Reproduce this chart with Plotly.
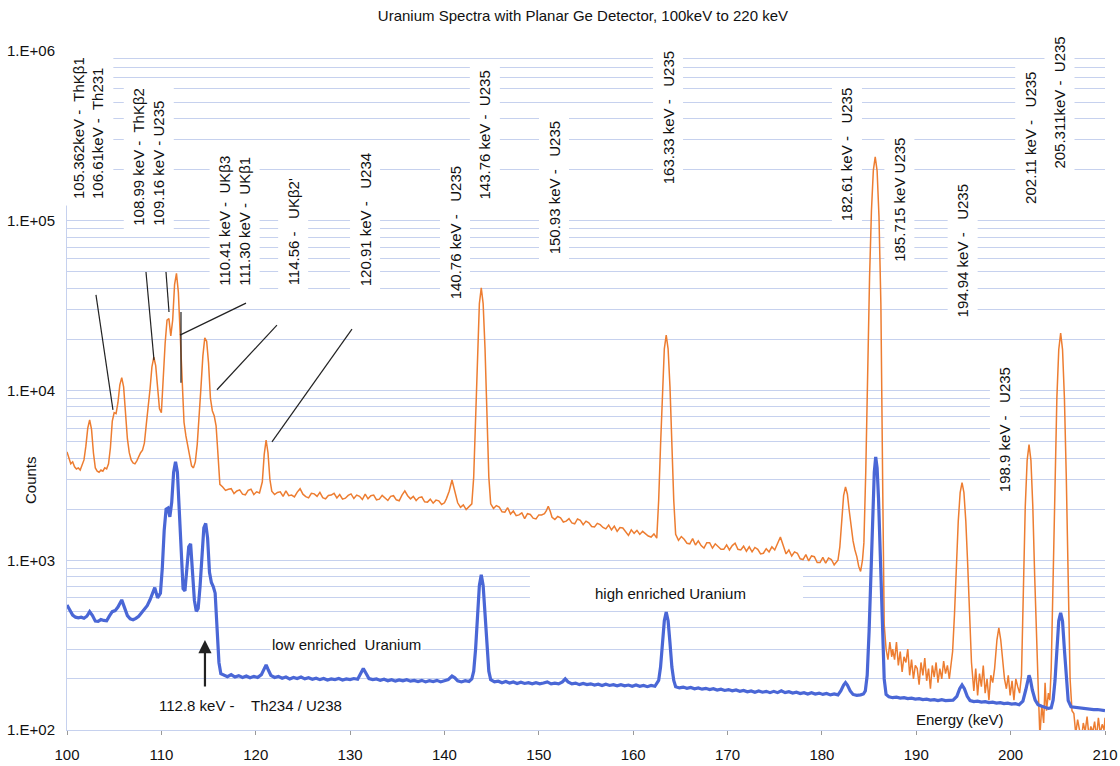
import math
import plotly.graph_objects as go

# ---------------- data ----------------
# high enriched uranium (orange)
heu_energy = [
    100.0,100.2,100.4,100.6,100.8,101.0,101.2,101.4,101.6,101.8,
    102.0,102.2,102.4,102.6,102.8,103.0,103.2,103.4,103.6,103.8,
    104.0,104.2,104.4,104.6,104.8,105.0,105.2,105.4,105.6,105.8,
    106.0,106.2,106.4,106.6,106.8,107.0,107.2,107.4,107.6,107.8,
    108.0,108.2,108.4,108.6,108.8,109.0,109.2,109.4,109.6,109.8,
    110.0,110.2,110.4,110.6,110.8,111.0,111.2,111.4,111.6,111.8,
    112.0,112.2,112.4,112.6,112.8,113.0,113.2,113.4,113.6,113.8,
    114.0,114.2,114.4,114.6,114.8,115.0,115.2,115.4,115.6,115.8,
    116.0,116.2,116.5,116.8,117.1,117.4,117.7,118.0,118.3,118.6,
    118.9,119.2,119.5,119.8,120.1,120.4,120.7,120.9,121.1,121.3,
    121.5,121.7,122.0,122.3,122.6,122.9,123.2,123.5,123.8,124.1,
    124.4,124.7,125.0,125.3,125.6,125.9,126.2,126.5,126.8,127.1,
    127.4,127.7,128.0,128.3,128.6,128.9,129.2,129.5,129.8,130.1,
    130.4,130.7,131.0,131.3,131.6,131.9,132.2,132.5,132.8,133.1,
    133.4,133.7,134.0,134.3,134.6,134.9,135.2,135.5,135.8,136.1,
    136.4,136.7,137.0,137.3,137.6,137.9,138.2,138.5,138.8,139.1,
    139.4,139.7,140.0,140.2,140.5,140.8,141.1,141.4,141.7,142.0,
    142.3,142.6,142.9,143.1,143.3,143.5,143.7,143.9,144.1,144.3,
    144.5,144.7,144.9,145.2,145.5,145.8,146.1,146.4,146.7,147.0,
    147.3,147.6,147.9,148.2,148.5,148.8,149.1,149.4,149.7,150.0,
    150.3,150.6,150.8,151.0,151.2,151.4,151.7,152.0,152.3,152.6,
    152.9,153.2,153.5,153.8,154.1,154.4,154.7,155.0,155.3,155.6,
    155.9,156.2,156.5,156.8,157.1,157.4,157.7,158.0,158.3,158.6,
    158.9,159.2,159.5,159.8,160.1,160.4,160.7,161.0,161.3,161.6,
    161.9,162.2,162.5,162.7,162.9,163.1,163.3,163.5,163.7,163.9,
    164.1,164.3,164.5,164.8,165.1,165.4,165.7,166.0,166.3,166.6,
    166.9,167.2,167.5,167.8,168.1,168.4,168.7,169.0,169.3,169.6,
    169.9,170.2,170.5,170.8,171.1,171.4,171.7,172.0,172.3,172.6,
    172.9,173.2,173.5,173.8,174.1,174.4,174.7,175.0,175.3,175.6,
    175.9,176.2,176.5,176.8,177.1,177.4,177.7,178.0,178.3,178.6,
    178.9,179.2,179.5,179.8,180.1,180.4,180.7,181.0,181.3,181.5,
    181.7,181.9,182.1,182.3,182.5,182.7,182.9,183.1,183.3,183.5,
    183.7,183.9,184.1,184.3,184.45,184.65,184.85,185.05,185.25,185.45,
    185.65,185.85,186.05,186.25,186.45,186.6,186.8,187.0,187.2,187.4,
    187.5,187.7,187.9,188.1,188.3,188.5,188.7,188.9,189.1,189.3,
    189.5,189.7,189.9,190.1,190.3,190.5,190.7,190.9,191.1,191.3,
    191.5,191.7,191.9,192.1,192.3,192.5,192.7,192.9,193.1,193.3,
    193.5,193.7,193.85,194.05,194.25,194.45,194.65,194.85,195.05,195.25,
    195.45,195.65,195.85,196.1,196.3,196.5,196.7,196.9,197.1,197.3,
    197.5,197.7,197.9,198.1,198.3,198.55,198.75,198.95,199.15,199.35,
    199.55,199.75,199.95,200.15,200.35,200.55,200.75,200.95,201.15,201.35,
    201.55,201.75,201.95,202.15,202.35,202.55,202.75,202.95,203.1,203.3,
    203.5,203.65,203.8,204.0,204.15,204.3,204.5,204.7,204.9,205.1,
    205.3,205.5,205.7,205.9,206.1,206.3,206.5,206.7,206.9,207.1,
    207.3,207.5,207.7,207.9,208.1,208.3,208.5,208.7,208.9,209.1,
    209.3,209.5,209.7,209.9,210.0,
]
heu_counts = [
    4350,4000,3700,3800,3550,3450,3500,3400,3600,3900,
    4700,6000,6700,5900,4300,3500,3350,3300,3400,3350,
    3500,3450,3700,4600,6600,7400,7300,8500,10800,11900,
    10500,7500,5200,4300,3900,3750,3700,3850,4100,4300,
    4450,4900,6300,7800,10200,13800,15700,14000,10200,7800,
    7400,12000,19000,26000,26500,21000,26000,42000,49000,38000,
    21000,9500,6500,5400,4700,4000,3600,3500,3800,4800,
    6800,10500,16000,20400,19500,14500,9000,7600,7100,6200,
    4200,2800,2700,2580,2620,2640,2470,2560,2600,2450,
    2430,2580,2620,2440,2530,2490,2900,4200,5100,4300,
    3000,2550,2440,2510,2530,2380,2560,2400,2420,2360,
    2520,2640,2450,2370,2330,2480,2460,2380,2510,2340,
    2300,2410,2420,2480,2330,2440,2290,2320,2410,2460,
    2310,2420,2380,2280,2450,2300,2400,2420,2270,2290,
    2410,2330,2250,2380,2400,2270,2240,2420,2560,2400,
    2300,2380,2250,2340,2360,2210,2200,2290,2170,2260,
    2240,2130,2180,2300,2550,2970,2500,2180,2050,2120,
    1990,2080,2150,3100,7200,17600,32500,40200,32500,17600,
    7200,3100,2150,2020,2100,2060,1930,1920,2040,1870,
    1950,1830,1850,1900,1760,1880,1860,1770,1750,1850,
    1850,1880,1960,2080,1950,1790,1740,1810,1780,1680,
    1700,1760,1660,1640,1750,1720,1620,1700,1660,1580,
    1570,1650,1620,1560,1530,1610,1510,1590,1480,1560,
    1550,1460,1400,1510,1440,1500,1420,1480,1440,1390,
    1370,1430,1350,2250,4750,10500,17600,21200,17600,10500,
    4750,2250,1420,1310,1380,1330,1260,1250,1340,1230,
    1300,1220,1180,1270,1270,1180,1250,1210,1160,1160,
    1230,1150,1220,1260,1160,1150,1210,1130,1200,1120,
    1190,1160,1090,1100,1170,1120,1200,1150,1260,1370,
    1220,1090,1150,1060,1120,1100,1020,1010,1080,990,
    1060,1050,970,970,1040,960,1030,1010,940,970,
    1000,1200,1700,2400,2700,2450,1950,1550,1300,1150,
    1050,920,860,1000,1270,3370,13500,46400,115000,198000,
    238000,197000,105000,32000,2500,420,300,260,330,270,
    300,260,330,240,290,220,270,250,300,210,
    260,200,240,230,185,250,210,265,195,230,
    175,240,205,250,190,230,200,255,215,240,
    200,250,290,480,940,1700,2500,2870,2500,1700,
    940,480,250,170,230,160,215,180,240,165,
    200,150,210,190,230,340,400,340,250,200,
    175,210,160,195,150,200,180,165,210,800,
    2070,3880,4800,3880,2070,800,310,160,92,140,
    110,190,130,165,150,230,770,3070,9050,17450,
    21800,17420,9020,3040,740,200,130,125,95,115,
    100,88,110,98,120,92,105,97,112,90,
    118,95,108,100,118,
]

# low enriched uranium (blue)
leu_energy = [
    100.0,100.3,100.6,100.9,101.2,101.5,101.8,102.1,102.4,102.7,
    103.0,103.3,103.6,103.9,104.2,104.5,104.8,105.1,105.4,105.8,
    106.1,106.4,106.7,107.0,107.3,107.6,107.9,108.2,108.5,108.8,
    109.1,109.3,109.6,109.9,110.1,110.3,110.5,110.7,110.9,111.1,
    111.3,111.5,111.7,111.9,112.1,112.3,112.5,112.7,112.9,113.1,
    113.3,113.5,113.7,113.9,114.1,114.3,114.5,114.7,114.9,115.1,
    115.3,115.5,115.7,115.9,116.1,116.3,116.6,117.0,117.4,117.8,
    118.2,118.6,119.0,119.4,119.8,120.2,120.6,120.9,121.1,121.3,
    121.6,122.0,122.4,122.8,123.2,123.6,124.0,124.4,124.8,125.2,
    125.6,126.0,126.4,126.8,127.2,127.6,128.0,128.4,128.8,129.2,
    129.6,130.0,130.4,130.8,131.1,131.4,131.7,132.0,132.4,132.8,
    133.2,133.6,134.0,134.4,134.8,135.2,135.6,136.0,136.4,136.8,
    137.2,137.6,138.0,138.4,138.8,139.2,139.6,140.0,140.4,140.8,
    141.1,141.4,141.8,142.2,142.6,142.9,143.1,143.3,143.5,143.7,
    143.9,144.1,144.3,144.5,144.7,144.9,145.3,145.7,146.1,146.5,
    146.9,147.3,147.7,148.1,148.5,148.9,149.3,149.7,150.1,150.5,
    150.9,151.3,151.7,152.1,152.5,152.8,153.1,153.5,153.9,154.3,
    154.7,155.1,155.5,155.9,156.3,156.7,157.1,157.5,157.9,158.3,
    158.7,159.1,159.5,159.9,160.3,160.7,161.1,161.5,161.9,162.3,
    162.7,162.9,163.1,163.3,163.5,163.7,163.9,164.1,164.3,164.5,
    164.9,165.3,165.7,166.1,166.5,166.9,167.3,167.7,168.1,168.5,
    168.9,169.3,169.7,170.1,170.5,170.9,171.3,171.7,172.1,172.5,
    172.9,173.3,173.7,174.1,174.5,174.9,175.3,175.7,176.1,176.5,
    176.9,177.3,177.7,178.1,178.5,178.9,179.3,179.7,180.1,180.5,
    180.9,181.3,181.7,182.0,182.3,182.5,182.7,183.0,183.3,183.7,
    184.1,184.4,184.6,184.8,185.0,185.2,185.4,185.55,185.7,185.85,
    186.0,186.2,186.4,186.6,186.8,187.1,187.5,187.9,188.3,188.7,
    189.1,189.5,189.9,190.3,190.7,191.1,191.5,191.9,192.3,192.7,
    193.1,193.5,193.9,194.3,194.6,194.85,195.1,195.4,195.7,196.1,
    196.5,196.9,197.3,197.7,198.1,198.5,198.9,199.3,199.7,200.1,
    200.5,200.9,201.3,201.6,201.8,201.95,202.1,202.3,202.6,202.9,
    203.3,203.7,204.0,204.3,204.5,204.7,204.9,205.1,205.3,205.5,
    205.7,205.9,206.1,206.4,206.8,207.2,207.6,208.0,208.4,208.8,
    209.2,209.6,210.0,
]
leu_counts = [
    545,505,475,462,458,462,455,468,498,472,
    438,436,447,442,440,470,498,505,530,584,
    530,472,452,446,455,468,490,512,540,585,
    650,690,600,640,900,1500,2000,2030,1800,2200,
    3300,3800,3300,2000,1000,680,660,900,1200,1250,
    900,580,500,520,700,1100,1550,1650,1350,850,
    740,700,640,400,250,215,210,206,212,205,
    209,204,208,203,207,204,212,228,242,228,
    210,204,207,202,205,200,204,201,205,200,
    203,199,202,198,201,197,200,198,201,197,
    200,198,201,199,212,230,215,201,198,200,
    196,199,195,198,194,197,195,198,194,196,
    193,196,192,195,193,196,192,195,198,208,
    203,195,192,195,193,200,222,300,483,710,
    820,710,483,300,222,198,192,194,190,193,
    189,192,188,191,188,190,187,190,187,189,
    192,187,189,187,192,200,192,187,189,185,
    188,185,187,184,186,183,186,183,185,182,
    185,182,184,181,184,181,183,180,183,181,
    196,235,326,440,495,440,326,235,196,180,
    177,179,176,178,175,177,174,176,173,175,
    172,174,171,173,170,172,169,171,168,170,
    167,170,167,169,166,169,166,170,166,168,
    165,167,164,166,163,166,163,165,162,164,
    161,163,161,170,184,190,184,170,162,160,
    161,163,170,210,380,900,2000,3300,4060,3500,
    2300,1000,400,200,162,157,155,156,154,155,
    153,154,152,153,151,152,150,151,149,151,
    149,150,150,158,175,184,175,158,149,147,
    148,146,147,145,146,144,145,143,144,142,
    143,141,148,172,198,210,198,172,150,141,
    138,136,134,135,150,195,300,440,490,437,
    297,194,149,137,136,135,134,133,133,132,
    132,131,130,
]

# y-axis tick labels
y_tick_values = [100, 1000, 10000, 100000, 1000000]
y_tick_labels = ["1.E+02", "1.E+03", "1.E+04", "1.E+05", "1.E+06"]
x_tick_values = [100, 110, 120, 130, 140, 150, 160, 170, 180, 190, 200, 210]

# peak identification labels: text, energy position (centre), counts at box bottom
peak_label_text = [
    "105.362keV -  ThKβ1<br>106.61keV -  Th231",
    "108.99 keV -  ThKβ2<br>109.16 keV - U235",
    "110.41 keV -  UKβ3<br>111.30 keV -  UKβ1",
    "114.56 -   UKβ2'", "120.91 keV -   U234",
    "140.76 keV -   U235", "143.76 keV -  U235",
    "150.93 keV -   U235", "163.33 keV -   U235",
    "182.61 keV -   U235", "185.715 keV U235",
    "194.94 keV -   U235", "198.9 keV -   U235",
    "202.11 keV -   U235", "205.311keV -  U235",
]
peak_label_x = [102.22, 108.69, 117.80, 123.95, 131.57,
                141.11, 144.29, 151.60, 163.68, 182.64, 188.26, 194.93, 199.38,
                202.03, 205.21]
peak_label_y = [122000, 85000, 37600, 37600, 37600,
                31500, 122000, 58000, 150000, 90800, 52000, 24600, 2300,
                114000, 184000]

# pointer lines from labels to peaks: (energy0, counts0, energy1, counts1)
pointer_x0 = [103.07, 108.37, 110.49, 112.08, 111.97, 122.25, 130.20]
pointer_y0 = [36600, 49900, 49900, 29000, 21200, 24300, 23000]
pointer_x1 = [104.87, 109.22, 110.81, 112.08, 118.97, 115.89, 121.72]
pointer_y1 = [7680, 15100, 29000, 11100, 32700, 10100, 4980]

# ---------------- styling ----------------
FONT = "Arial, 'Liberation Sans', sans-serif"
GRID = "#c6d1ee"
ORANGE = "#ED7D31"
BLUE = "#4a67d6"

fig = go.Figure()
fig.add_trace(go.Scatter(x=heu_energy, y=heu_counts, mode="lines",
                         line=dict(color=ORANGE, width=1.5), hoverinfo="skip",
                         name="high enriched Uranium"))
fig.add_trace(go.Scatter(x=leu_energy, y=leu_counts, mode="lines",
                         line=dict(color=BLUE, width=3.2), hoverinfo="skip",
                         name="low enriched Uranium"))

grid_vals = []
grid_text = []
for dec in [100, 1000, 10000, 100000]:
    for m in range(1, 10):
        grid_vals.append(dec * m)
        grid_text.append(y_tick_labels[y_tick_values.index(dec)] if m == 1 else "")
grid_vals.append(1000000)
grid_text.append("1.E+06")

annotations = []
for t, xv, yv in zip(peak_label_text, peak_label_x, peak_label_y):
    annotations.append(dict(
        x=xv, y=math.log10(yv), xref="x", yref="y", text=t, textangle=-90,
        showarrow=False, xanchor="center", yanchor="bottom", align="left",
        bgcolor="white", borderpad=6,
        font=dict(family=FONT, size=15, color="#111")))

annotations += [
    dict(x=-0.0356, y=math.log10(2970), xref="paper", yref="y", text="Counts",
         textangle=-90, showarrow=False, xanchor="center", yanchor="middle",
         font=dict(family=FONT, size=15, color="#111")),
    dict(x=121.5, y=math.log10(317), xref="x", yref="y", text="low enriched  Uranium",
         showarrow=False, xanchor="left", yanchor="middle", bgcolor="white",
         font=dict(family=FONT, size=15, color="#111")),
    dict(x=155.73, y=math.log10(641), xref="x", yref="y", text="high enriched Uranium",
         showarrow=False, xanchor="left", yanchor="middle",
         font=dict(family=FONT, size=15, color="#111")),
    dict(x=109.54, y=math.log10(140), xref="x", yref="y", text="112.8 keV -    Th234 / U238",
         showarrow=False, xanchor="left", yanchor="middle",
         font=dict(family=FONT, size=15, color="#111")),
    dict(x=194.62, y=math.log10(115), xref="x", yref="y", text="Energy (keV)",
         showarrow=False, xanchor="center", yanchor="middle",
         font=dict(family=FONT, size=15, color="#111")),
    dict(x=114.62, y=math.log10(339), xref="x", yref="y", text="",
         showarrow=True, ax=0, ay=48, arrowhead=2, arrowsize=1.2, arrowwidth=2.2,
         arrowcolor="#222"),
]

shapes = []
for a, b, c, d in zip(pointer_x0, pointer_y0, pointer_x1, pointer_y1):
    shapes.append(dict(type="line", xref="x", yref="y", x0=a, y0=b, x1=c, y1=d,
                       line=dict(color="#222", width=1.2), layer="above"))
# white text box behind "high enriched Uranium"
shapes.append(dict(type="rect", xref="x", yref="y", x0=149.06, x1=178.0, y0=530, y1=850,
                   fillcolor="white", line=dict(width=0), layer="between"))

fig.update_layout(
    width=1120, height=766,
    margin=dict(l=67, r=15, t=51, b=36, autoexpand=False),
    paper_bgcolor="white", plot_bgcolor="white",
    showlegend=False,
    font=dict(family=FONT, size=15, color="#111"),
    title=dict(text="Uranium Spectra with Planar Ge Detector, 100keV to 220 keV",
               x=0.5205, xref="container", xanchor="center",
               y=0.980, yref="container", yanchor="middle",
               font=dict(family=FONT, size=15, color="#111")),
    xaxis=dict(range=[100, 210], tickmode="array", tickvals=x_tick_values,
               showgrid=False, zeroline=False, showline=True, linecolor=GRID,
               linewidth=1, ticks="outside", ticklen=4, tickcolor="#999",
               ticklabelstandoff=7, automargin=False,
               tickfont=dict(family=FONT, size=15, color="#111")),
    yaxis=dict(type="log", range=[2, 6], tickmode="array", tickvals=grid_vals,
               ticktext=grid_text, showgrid=True, gridcolor=GRID, gridwidth=1,
               zeroline=False, showline=True, linecolor=GRID, linewidth=1,
               ticks="", ticklabelstandoff=8, automargin=False,
               tickfont=dict(family=FONT, size=15, color="#111")),
    annotations=annotations,
    shapes=shapes,
)

fig.write_html("out.html")
